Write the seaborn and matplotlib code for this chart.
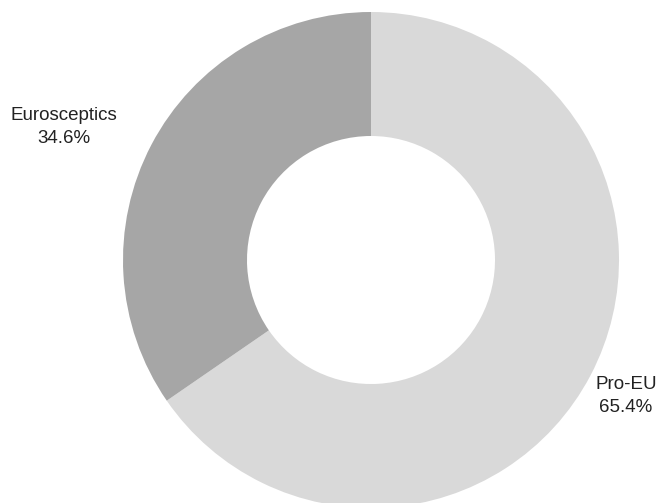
import numpy as np
import matplotlib
matplotlib.use("Agg")
import matplotlib.pyplot as plt
import seaborn as sns

sns.set_theme(style="white")
plt.rcParams['font.family'] = ['Liberation Sans', 'DejaVu Sans']

# Data
labels = ["Pro-EU", "Eurosceptics"]
shares = [65.4, 34.6]
colors = ["#d9d9d9", "#a6a6a6"]

fig = plt.figure(figsize=(6.58, 5.03), dpi=100)
ax = fig.add_axes([0, 0, 1, 1])

wedges, _ = ax.pie(shares, colors=colors, startangle=90, counterclock=False,
                   radius=1.0, wedgeprops=dict(width=0.5, linewidth=0))

# label distance per slice
dists = [1.165, 1.35]
offsets = [-0.3, 4.3]
for w, lab, val, d, off in zip(wedges, labels, shares, dists, offsets):
    ang = np.deg2rad((w.theta1 + w.theta2) / 2 + off)
    ax.text(d * np.cos(ang), d * np.sin(ang), f"{lab}\n{val:.1f}%",
            ha="center", va="center", fontsize=13.5, color="#222222", linespacing=1.45)

ax.set_xlim(-371 / 248, (658 - 371) / 248)
ax.set_ylim(-(503 - 260) / 248, 260 / 248)
ax.set_aspect("equal")
ax.axis("off")

fig.savefig("out.png", dpi=100)
